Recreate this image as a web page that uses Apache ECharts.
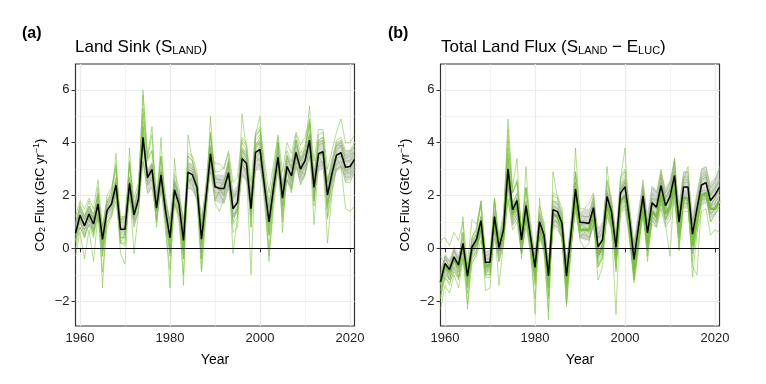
<!DOCTYPE html>
<html><head><meta charset="utf-8">
<script src="https://cdn.jsdelivr.net/npm/echarts@6/dist/echarts.min.js"></script>
<style>html,body{margin:0;padding:0;background:#fff}#c{width:766px;height:384px}</style>
</head><body><div id="c"></div>
<script>
const years=[1959,1960,1961,1962,1963,1964,1965,1966,1967,1968,1969,1970,1971,1972,1973,1974,1975,1976,1977,1978,1979,1980,1981,1982,1983,1984,1985,1986,1987,1988,1989,1990,1991,1992,1993,1994,1995,1996,1997,1998,1999,2000,2001,2002,2003,2004,2005,2006,2007,2008,2009,2010,2011,2012,2013,2014,2015,2016,2017,2018,2019,2020,2021];
const xTickLabels=[1960,1980,2000,2020];
const xGridLines=[1960,1970,1980,1990,2000,2010,2020];
const yTickLabels=[-2,0,2,4,6];
const yMinorLines=[-1,1,3,5];

// Panel (a) Land sink
const landMean=[0.57,1.25,0.86,1.30,0.92,1.68,0.34,1.43,1.68,2.40,0.72,0.72,2.46,1.27,1.86,4.20,2.68,2.99,1.52,2.78,1.43,0.40,2.22,1.67,0.30,2.89,2.78,2.30,0.35,1.90,3.58,2.33,2.27,2.27,2.86,1.50,1.74,3.40,3.21,1.50,3.63,3.75,2.35,1.00,2.28,3.45,1.90,3.10,2.74,3.63,3.00,3.32,4.10,2.31,3.58,3.66,2.02,2.84,3.53,3.62,3.07,3.10,3.37];
const landLow=[0.3,0.9,0.5,0.9,0.6,1.3,0.1,1.1,1.3,1.9,0.5,0.5,1.8,0.8,1.3,3.3,2.0,2.3,1.1,2.1,1.0,0.1,1.7,1.2,0.1,2.3,2.2,1.8,0.1,1.4,2.9,1.8,1.7,1.7,2.2,1.1,1.3,2.7,2.5,1.1,2.9,3.0,1.8,0.7,1.8,2.8,1.5,2.5,2.2,3.0,2.4,2.7,3.4,1.9,2.9,3.0,1.6,2.3,2.9,3.0,2.5,2.6,2.8];
const landHigh=[1.0,1.6,1.2,1.6,1.3,2.0,0.8,1.8,2.0,2.6,1.2,1.2,2.8,1.8,2.3,4.3,3.0,3.3,2.1,3.1,2.0,1.1,2.7,2.2,1.1,3.3,3.2,2.8,1.1,2.4,3.9,2.8,2.8,2.8,3.3,2.2,2.4,3.8,3.7,2.2,4.0,4.1,2.9,1.8,2.9,3.9,2.6,3.6,3.3,4.1,3.5,3.8,4.5,3.0,4.1,4.1,2.7,3.4,4.0,4.1,3.7,3.7,3.9];
const landModel1=[0.8,1.5,1.1,1.6,1.1,2.1,0.3,1.7,2.1,3.0,0.8,0.8,3.1,1.5,2.3,5.3,3.3,3.7,1.7,3.4,1.6,0.3,2.6,1.9,0.1,3.5,3.3,2.7,0.2,2.1,4.3,2.6,2.6,2.4,3.4,1.5,1.8,4.0,3.7,1.5,4.2,4.5,2.6,0.8,2.5,4.0,1.9,3.5,3.0,4.1,3.3,3.7,4.7,2.4,4.1,4.2,2.0,3.0,3.9,4.0,3.3,3.3,3.7];
const landModel2=[0.3,0.8,0.5,0.9,0.6,1.2,0.1,1.0,1.2,1.8,0.4,0.5,1.9,1.0,1.4,3.3,2.1,2.3,1.1,2.2,1.1,0.3,1.7,1.3,0.2,2.3,2.2,1.9,0.3,1.6,2.9,1.9,2.1,1.7,2.4,1.3,1.4,2.8,2.6,1.3,3.0,3.2,2.0,0.9,2.0,3.0,1.7,2.6,2.3,3.1,2.6,2.8,3.5,2.0,3.1,3.2,1.8,2.5,3.0,3.1,2.7,2.7,3.0];
const landModel3=[1.2,1.8,1.5,1.9,1.5,2.6,0.8,2.0,2.3,3.1,1.2,1.2,3.2,1.9,2.5,5.1,3.4,3.7,2.1,3.5,2.0,0.9,2.8,2.3,0.7,3.6,3.5,2.9,0.8,2.5,4.3,2.9,2.9,3.1,3.6,2.0,2.2,4.1,3.9,2.0,4.3,4.5,3.0,1.4,2.9,4.2,2.4,3.7,3.3,4.3,3.6,3.9,4.8,2.8,4.3,4.4,2.5,3.4,4.1,4.2,3.7,3.7,4.0];
const landModel4=[-0.3,0.6,-0.4,0.7,-0.5,1.3,-0.9,0.8,1.2,2.2,-0.2,-0.6,2.3,-0.2,1.4,4.6,2.5,2.9,0.8,2.6,0.6,-0.8,1.7,1.0,-1.0,2.7,2.5,1.8,-0.9,1.2,3.6,1.7,1.4,1.9,2.5,0.6,0.8,3.2,2.9,-1.0,3.4,3.7,1.7,-0.3,1.5,3.2,1.0,2.6,2.1,3.3,2.4,2.8,3.9,0.9,3.2,3.3,0.2,2.1,3.0,3.1,1.5,1.4,1.6];
const landModel5=[0.2,1.3,0.8,1.4,0.7,2.0,-1.5,1.5,1.9,3.6,0.2,0.1,3.8,1.1,2.1,6.0,3.4,4.3,1.4,4.2,1.1,-1.5,3.4,1.6,-1.4,4.3,3.3,2.5,-0.8,1.7,5.0,2.4,2.3,2.5,3.3,-0.2,1.2,5.1,3.7,0.8,4.3,5.0,2.3,-0.5,2.0,4.0,0.6,3.3,2.6,4.1,3.1,3.6,5.4,1.8,4.0,4.1,1.2,2.6,3.7,3.9,3.0,3.0,3.4];
const landModel6=[0.9,1.3,1.1,1.4,1.1,1.6,0.8,1.5,1.7,2.1,1.1,1.1,2.2,1.5,1.9,3.3,2.4,2.6,1.7,2.5,1.7,1.1,2.2,1.9,1.1,2.6,2.6,2.3,1.2,2.1,3.1,2.4,2.2,2.6,2.8,1.9,2.1,3.1,3.0,2.0,3.3,3.4,2.6,1.8,2.6,3.3,2.3,3.1,2.8,3.4,3.1,3.3,3.8,2.7,3.5,3.6,2.5,3.0,3.5,3.6,3.3,3.3,3.5];
const landModel7=[0.3,1.0,0.7,1.1,0.6,1.6,-0.1,1.3,1.6,2.5,0.4,0.4,2.6,1.1,1.8,4.6,2.8,3.1,1.4,2.9,1.2,0.0,2.2,1.6,-0.1,3.1,3.0,2.4,0.1,1.9,3.9,2.5,2.5,2.3,3.2,1.5,1.8,3.8,3.6,1.5,4.1,4.3,2.6,1.0,2.5,4.0,2.1,3.5,3.0,4.1,3.4,3.8,4.7,2.6,4.1,4.2,2.2,3.2,4.0,4.1,3.5,3.6,3.9];
const landModel8=[0.7,1.7,1.2,1.8,1.1,2.3,0.1,1.8,2.2,3.2,0.7,0.6,3.3,1.4,2.3,5.8,3.5,4.6,1.6,3.5,1.4,-0.1,2.5,1.8,-0.4,3.5,3.3,2.5,-0.4,1.9,4.4,2.3,2.3,2.0,3.1,0.9,1.2,3.7,3.4,0.8,3.9,4.2,2.1,0.0,1.9,3.6,1.2,3.0,2.3,3.6,2.7,3.1,4.3,1.6,3.5,3.6,1.1,2.2,3.2,3.3,2.5,2.5,2.9];
const landModel9=[0.5,1.1,0.4,1.2,0.5,1.6,-0.3,1.3,1.5,2.3,0.2,0.6,2.0,1.2,1.8,4.0,2.6,2.9,1.0,2.7,1.3,-0.2,2.1,1.2,-0.2,2.4,2.7,2.2,0.3,1.8,3.5,1.8,2.2,2.0,2.8,1.0,1.6,3.3,2.7,1.4,3.5,3.3,2.3,0.5,2.2,3.4,1.4,3.0,2.2,3.5,2.9,2.8,4.0,1.8,3.5,3.2,1.5,2.7,3.4,3.1,3.0,2.8,3.1];
const landModel10=[0.9,1.4,1.1,1.5,1.1,1.9,0.6,1.6,1.9,2.5,1.0,1.0,2.6,1.5,2.1,4.1,2.8,3.1,1.7,2.9,1.6,0.8,2.4,1.9,0.7,3.0,2.9,2.5,0.8,2.1,3.7,3.2,3.2,3.0,3.7,2.5,2.7,4.2,4.0,2.5,4.4,4.6,3.3,2.1,3.2,4.3,2.9,4.0,3.6,4.4,3.9,4.2,4.9,3.3,4.5,4.5,3.0,3.7,4.4,4.9,4.0,4.0,4.3];
const landModel11=[0.3,1.2,0.7,1.2,0.7,1.7,0.0,1.4,1.7,2.6,0.4,0.4,2.6,1.1,1.8,4.8,2.8,3.2,1.4,2.9,1.2,-0.1,2.2,1.5,-0.2,3.0,2.9,2.3,-0.2,1.7,3.8,2.3,2.2,2.2,2.9,1.2,1.5,3.5,3.3,1.2,3.8,4.0,2.2,0.5,2.1,3.5,1.6,3.1,2.6,3.7,2.9,3.3,4.3,2.0,3.6,3.7,1.6,2.7,3.5,3.6,2.9,3.0,3.3];
const landModel12=[1.0,1.6,1.2,1.6,1.3,2.0,0.8,1.8,2.0,2.7,1.1,1.2,2.7,1.6,2.2,4.3,2.9,3.2,1.9,3.0,1.8,0.9,2.5,2.0,0.8,3.2,3.1,2.6,0.9,2.3,3.8,2.7,2.6,2.6,3.2,1.9,2.2,3.7,3.5,2.0,3.9,4.0,2.7,1.5,2.7,3.7,2.3,3.4,3.1,3.9,3.3,3.6,4.3,2.7,3.9,4.0,2.5,3.2,3.9,3.9,3.4,3.5,3.7];
const landModel13=[0.0,0.8,0.4,0.9,0.4,1.3,-0.3,1.0,1.3,2.1,0.2,0.2,2.2,0.8,1.5,4.1,2.4,2.7,1.0,2.5,0.9,-0.3,1.8,1.2,-0.4,2.6,2.4,1.9,-0.4,1.4,3.3,2.1,2.1,2.1,2.8,1.2,1.4,3.3,3.1,1.2,3.6,3.7,2.1,0.6,2.0,3.4,1.6,2.9,2.5,3.5,2.8,3.2,4.1,2.0,3.5,3.6,1.7,2.6,3.4,3.5,2.8,2.9,3.2];

// Panel (b) Total land flux
const totMean=[-1.27,-0.57,-0.80,-0.32,-0.63,0.19,-1.05,0.06,0.34,1.05,-0.54,-0.52,1.20,0.03,0.70,3.01,1.46,1.81,0.32,1.62,0.44,-0.72,1.01,0.51,-1.04,1.46,1.39,0.95,-1.05,0.57,2.24,0.99,0.97,0.95,1.54,0.06,0.32,1.96,1.39,0.04,2.09,2.34,1.10,-0.42,0.82,1.99,0.59,1.73,1.56,2.37,1.62,1.96,2.76,0.99,2.32,2.32,0.54,1.50,2.40,2.49,1.81,2.03,2.32];
const totLow=[-1.6,-1.0,-1.2,-0.8,-1.0,-0.3,-1.4,-0.4,-0.2,0.5,-0.9,-0.9,0.5,-0.5,0.1,2.1,0.8,1.1,-0.2,0.9,-0.1,-1.1,0.4,0.0,-1.3,0.8,0.8,0.4,-1.3,0.1,1.5,0.4,0.3,0.3,0.8,-0.4,-0.2,1.2,0.7,-0.4,1.3,1.6,0.5,-0.8,0.3,1.3,0.0,1.0,0.8,1.5,0.9,1.2,1.9,0.4,1.5,1.5,0.0,0.8,1.6,1.7,1.1,1.3,1.6];
const totHigh=[-0.8,-0.2,-0.4,0.1,-0.2,0.5,-0.6,0.4,0.6,1.3,-0.1,-0.1,1.5,0.5,1.1,3.1,1.8,2.1,0.8,1.9,0.9,-0.1,1.4,1.0,-0.3,1.8,1.8,1.4,-0.3,1.1,2.5,1.4,1.5,1.5,2.0,0.8,1.0,2.4,1.9,0.8,2.5,2.8,1.7,0.4,1.5,2.5,1.4,2.4,2.2,2.9,2.3,2.6,3.3,1.8,2.9,2.9,1.4,2.2,3.0,3.1,2.5,2.7,3.0];
const totDgvmMean=[-1.3,-0.6,-0.9,-0.4,-0.7,0.1,-1.1,0.0,0.2,0.9,-0.7,-0.6,1.1,-0.1,0.6,2.9,1.3,1.7,0.2,1.5,0.3,-0.9,0.8,0.3,-1.2,1.3,1.2,0.7,-1.3,0.3,2.0,0.7,0.7,0.7,1.3,-0.2,0.0,1.7,1.1,-0.3,1.8,2.0,0.8,-0.8,0.5,1.7,0.2,1.4,1.2,2.0,1.3,1.6,2.4,0.6,1.9,1.9,0.1,1.1,2.0,2.1,1.5,1.5,1.8];
const totModel1=[-1.3,-0.4,-0.7,-0.1,-0.5,0.6,-1.1,0.4,0.7,1.6,-0.4,-0.4,1.8,0.3,1.1,4.1,2.1,2.5,0.6,2.3,0.7,-0.8,1.4,0.8,-1.3,2.0,1.9,1.3,-1.3,0.8,2.9,1.3,1.2,1.2,2.0,0.0,0.4,2.5,1.7,0.0,2.6,2.9,1.3,-0.7,0.9,2.4,0.6,2.1,1.8,2.9,1.9,2.3,3.3,1.0,2.7,2.7,0.4,1.6,2.8,2.9,2.0,2.3,2.6];
const totModel2=[-1.6,-1.1,-1.3,-0.9,-1.1,-0.4,-1.4,-0.5,-0.3,0.3,-1.0,-1.0,0.4,-0.5,0.1,1.9,0.7,1.0,-0.2,0.8,-0.1,-1.0,0.4,0.0,-1.3,0.8,0.7,0.4,-1.2,0.1,1.4,0.4,0.6,0.4,0.9,-0.3,-0.1,1.3,0.8,-0.3,1.4,1.6,0.6,-0.6,0.4,1.3,0.2,1.2,1.0,1.7,1.1,1.4,2.0,0.6,1.7,1.7,0.3,1.1,1.8,1.9,1.3,1.5,1.8];
const totModel3=[0.3,0.4,0.1,0.6,0.3,1.0,-0.6,1.1,0.9,1.7,-0.1,-0.1,1.8,0.5,1.3,3.8,2.1,2.5,0.8,2.3,1.0,-0.3,1.6,1.0,-0.7,2.1,2.0,1.5,-0.7,1.1,2.9,1.5,1.5,1.7,2.1,0.5,0.8,2.6,1.9,0.4,2.7,3.0,1.6,-0.1,1.3,2.6,1.0,2.3,2.1,3.0,2.1,2.5,3.4,1.4,2.9,2.9,0.9,2.0,3.0,3.1,2.3,2.5,3.1];
const totModel4=[-2.3,-1.4,-1.7,-1.0,-1.5,-0.4,-2.1,-0.6,-0.2,0.8,-1.6,-1.5,0.9,-1.4,0.2,3.4,1.2,1.7,-0.4,1.4,-0.3,-1.9,0.5,-0.2,-2.4,1.1,1.0,0.3,-2.2,-0.2,2.1,0.3,0.0,0.2,1.0,-1.2,-0.7,1.6,0.8,-2.5,1.7,2.0,0.3,-1.3,-0.1,1.5,-0.5,1.1,0.8,2.0,0.9,-0.3,2.5,-0.1,1.8,1.8,-0.7,-1.0,1.8,2.0,1.0,1.3,1.6];
const totModel5=[-1.9,-0.7,-1.2,-0.4,-0.9,1.2,-2.3,0.1,0.6,1.8,-1.0,-1.0,1.9,-0.1,1.0,4.9,2.3,3.4,0.3,3.1,0.4,-2.5,1.9,0.4,-2.7,2.9,1.9,1.1,-2.0,0.4,3.8,1.0,1.0,0.9,1.9,-0.7,-0.3,3.1,1.5,-0.8,2.6,3.8,0.9,-1.2,0.3,2.3,-0.1,1.8,1.5,2.8,1.5,2.1,3.4,0.4,2.6,3.1,-0.5,1.1,2.6,2.7,1.6,1.9,2.3];
const totModel6=[-0.3,-0.6,-0.7,-0.4,-0.6,-0.1,-0.8,-0.1,0.1,0.5,-0.4,-0.4,0.7,0.0,0.4,1.8,0.9,1.1,0.2,1.0,0.3,-0.3,0.7,0.4,-0.5,1.0,1.0,0.8,-0.4,0.6,1.6,0.9,1.1,0.9,1.2,0.4,0.5,1.5,1.2,0.4,1.7,1.8,1.1,0.2,1.0,1.7,0.9,1.6,1.5,2.0,1.6,1.8,2.3,1.2,2.0,2.1,1.0,1.6,2.2,2.2,1.8,2.0,2.2];
const totModel7=[-1.8,-1.0,-1.2,-0.7,-1.1,0.0,-1.5,-0.2,0.1,1.0,-0.9,-0.9,1.2,-0.2,0.6,3.4,1.5,1.9,0.1,1.7,0.3,-1.1,1.0,0.4,-1.5,1.5,1.4,0.9,-1.5,0.4,2.5,1.0,1.0,0.9,1.6,-0.2,0.2,2.2,1.5,-0.1,2.3,2.6,1.1,-0.7,0.8,2.2,0.5,1.9,1.7,2.7,1.8,2.2,3.1,1.0,2.6,2.6,0.5,1.6,2.7,2.8,2.0,2.2,2.6];
const totModel8=[-1.4,-0.3,-0.7,0.0,-0.5,0.6,-1.3,0.4,0.8,1.8,-0.7,-0.7,1.9,0.1,1.1,4.5,2.1,2.6,0.4,2.3,0.5,-1.3,1.3,0.5,-1.9,1.8,1.7,1.0,-2.1,0.3,2.8,0.9,0.8,0.7,1.6,-0.7,-0.4,2.1,1.2,-0.9,2.2,2.5,0.6,-1.1,0.1,1.8,-0.3,1.4,1.1,2.2,1.1,1.5,2.7,0.0,2.0,1.9,-1.1,0.6,2.0,2.0,1.0,1.3,1.5];
const totModel9=[-1.4,-0.7,-1.2,-0.4,-1.1,0.1,-1.2,0.0,0.2,0.9,-1.0,-0.6,1.1,-0.1,0.6,2.8,1.3,1.7,-0.2,1.5,0.3,-1.2,0.9,0.0,-1.5,1.3,1.3,0.8,-1.2,0.4,2.1,0.6,0.8,0.6,1.4,-0.4,0.2,1.8,0.9,-0.4,2.0,2.2,1.0,-0.9,0.4,1.9,0.1,1.6,1.1,2.2,1.5,1.5,2.6,0.5,2.2,2.0,0.1,1.3,2.2,2.0,1.6,1.7,2.0];
const totModel10=[-1.3,-0.7,-0.9,-0.4,-0.7,0.0,-1.2,-0.2,0.1,0.7,-0.8,-0.7,0.8,-0.3,0.3,2.4,1.0,1.3,-0.1,1.1,0.0,-1.0,0.5,0.1,-1.4,0.9,0.8,0.4,-1.4,0.1,1.6,0.4,0.4,0.3,0.9,-0.5,-0.2,1.2,0.7,-0.5,1.3,1.5,0.4,-1.0,0.1,1.2,-0.1,0.9,0.8,1.5,0.8,1.1,1.8,0.2,1.4,1.4,-0.2,0.6,1.4,1.5,0.5,0.7,0.6];
const totModel11=[-1.6,-0.7,-1.0,-0.4,-0.8,0.2,-1.4,0.0,0.4,1.2,-0.8,-0.8,1.4,-0.1,0.7,3.6,1.7,2.1,0.2,1.8,0.4,-1.1,1.0,0.4,-1.5,1.6,1.5,0.9,-1.6,0.4,2.5,0.9,0.9,0.9,1.6,-0.3,0.0,2.1,1.4,-0.4,2.2,2.5,1.0,-1.0,0.6,2.0,0.3,1.7,1.5,2.5,1.5,1.9,2.9,0.7,2.3,2.3,0.1,1.3,2.4,2.5,1.6,1.9,2.3];
const totModel12=[-1.0,-0.3,-0.5,-0.1,-0.4,0.4,-0.7,0.3,0.5,1.2,-0.3,-0.2,1.3,0.3,0.9,3.0,1.6,1.9,0.6,1.7,0.7,-0.4,1.2,0.7,-0.6,1.6,1.5,1.2,-0.6,0.8,2.3,1.2,1.2,1.2,1.7,0.4,0.6,2.1,1.6,0.4,2.2,2.5,1.3,0.0,1.1,2.2,0.9,1.9,1.8,2.5,1.9,2.2,2.9,1.3,2.5,2.5,0.9,1.8,2.6,2.7,2.1,2.3,2.5];
const totModel13=[-1.9,-1.1,-1.4,-0.8,-1.2,-0.3,-1.7,-0.4,-0.1,0.7,-1.1,-1.1,0.9,-0.5,0.3,2.9,1.1,1.5,-0.2,1.3,-0.1,-1.4,0.6,0.0,-1.8,1.1,1.0,0.5,-1.8,0.0,1.9,0.5,0.5,0.4,1.1,-0.6,-0.3,1.6,0.9,-0.7,1.7,2.0,0.6,-1.2,0.2,1.6,-0.1,1.2,1.0,2.0,1.1,1.5,2.4,0.4,1.9,1.9,-0.2,0.9,1.9,2.0,1.3,1.5,1.8];

const landModels=[landModel1,landModel2,landModel3,landModel4,landModel5,landModel6,landModel7,landModel8,landModel9,landModel10,landModel11,landModel12,landModel13];
const totModels=[totModel1,totModel2,totModel3,totModel4,totModel5,totModel6,totModel7,totModel8,totModel9,totModel10,totModel11,totModel12,totModel13];

const FONT='"Liberation Sans", Arial, Helvetica, sans-serif';
const pair=(arr)=>years.map((y,i)=>[y,arr[i]]);

function gridSeries(ai){
  return {type:'line',xAxisIndex:ai,yAxisIndex:ai,data:[],silent:true,z:0,
    markLine:{silent:true,symbol:['none','none'],label:{show:false},animation:false,z:0,
      data:[].concat(
        yMinorLines.map(v=>({yAxis:v,lineStyle:{color:'#ebebeb',width:0.6,type:'solid'}})),
        yTickLabels.map(v=>({yAxis:v,lineStyle:{color:'#ebebeb',width:1.2,type:'solid'}})),
        xGridLines.map(v=>({xAxis:v,lineStyle:{color:'#ebebeb',width:(v%20===0?1.2:0.6),type:'solid'}}))
      )}};
}
function bandSeries(ai,low,high){
  return {type:'custom',xAxisIndex:ai,yAxisIndex:ai,z:3,silent:true,clip:true,
    data:years.map((y,i)=>[y,low[i],high[i]]),
    encode:{x:0,y:[1,2]},
    renderItem:function(params,api){
      if(params.dataIndex!==0) return null;
      const pts=[];
      for(let i=0;i<years.length;i++) pts.push(api.coord([years[i],high[i]]));
      for(let i=years.length-1;i>=0;i--) pts.push(api.coord([years[i],low[i]]));
      return {type:'polygon',shape:{points:pts},style:{fill:'rgba(165,165,165,0.42)'}};
    }};
}
function modelSeries(ai,arr){
  return {type:'line',xAxisIndex:ai,yAxisIndex:ai,data:pair(arr),showSymbol:false,symbol:'none',silent:true,z:2,
    lineStyle:{color:'rgba(120,195,55,0.55)',width:1},clip:true};
}
function meanSeries(ai,arr){
  return {type:'line',xAxisIndex:ai,yAxisIndex:ai,data:pair(arr),showSymbol:false,symbol:'none',silent:true,z:6,
    lineStyle:{color:'#000',width:1.5},clip:true,
    markLine:{silent:true,symbol:['none','none'],label:{show:false},z:6,
      data:[{yAxis:0,lineStyle:{color:'#000',width:1.1,type:'solid'}}]}};
}
function xAxis(ai){
  return {type:'value',gridIndex:ai,min:1959,max:2021,
    name:'Year',nameLocation:'middle',nameGap:27,
    nameTextStyle:{fontFamily:FONT,fontSize:14,color:'#000'},
    axisLine:{show:false},
    axisTick:{show:true,customValues:xTickLabels,length:4,lineStyle:{color:'#333',width:1}},
    axisLabel:{customValues:xTickLabels,fontFamily:FONT,fontSize:13,color:'#222',margin:6,formatter:v=>String(v)},
    splitLine:{show:false}};
}
function yAxis(ai){
  return {type:'value',gridIndex:ai,min:-2.94,max:6.98,
    name:'CO{sub|2} Flux (GtC yr{sup|−1})',nameLocation:'middle',nameRotate:90,nameGap:28,
    nameTextStyle:{fontFamily:FONT,fontSize:13,color:'#000',
      rich:{sub:{fontFamily:FONT,fontSize:9,verticalAlign:'bottom',padding:[6,0,0,0],color:'#000'},
            sup:{fontFamily:FONT,fontSize:9,verticalAlign:'top',padding:[0,0,6,0],color:'#000'}}},
    axisLine:{show:false},
    axisTick:{show:true,customValues:yTickLabels,length:4,lineStyle:{color:'#333',width:1}},
    axisLabel:{customValues:yTickLabels,fontFamily:FONT,fontSize:13,color:'#222',margin:6,
      formatter:v=>(v<0?'\u2212'+Math.abs(v):String(v))},
    splitLine:{show:false}};
}

const series=[];
series.push(gridSeries(0),gridSeries(1));
landModels.forEach(m=>series.push(modelSeries(0,m)));
totModels.forEach(m=>series.push(modelSeries(1,m)));
series.push(bandSeries(0,landLow,landHigh),bandSeries(1,totLow,totHigh));
series.push({type:'line',xAxisIndex:1,yAxisIndex:1,data:pair(totDgvmMean),showSymbol:false,symbol:'none',silent:true,z:4,
  lineStyle:{color:'#78c23c',width:2.6},clip:true});
series.push(meanSeries(0,landMean),meanSeries(1,totMean));

const chart=echarts.init(document.getElementById('c'),null,{renderer:'canvas'});
chart.setOption({
  animation:false,
  backgroundColor:'#fff',
  grid:[
    {left:75.5,right:411.5,top:64,height:262,show:true,borderColor:'#333',borderWidth:1.2,backgroundColor:'transparent'},
    {left:440.5,right:46.5,top:64,height:262,show:true,borderColor:'#333',borderWidth:1.2,backgroundColor:'transparent'}
  ],
  xAxis:[xAxis(0),xAxis(1)],
  yAxis:[yAxis(0),yAxis(1)],
  graphic:[
    {type:'text',left:22,top:26,style:{text:'(a)',font:'bold 16px '+FONT,fill:'#000'}},
    {type:'text',left:388,top:26,style:{text:'(b)',font:'bold 16px '+FONT,fill:'#000'}},
    {type:'text',left:75,top:39,style:{text:'Land Sink (S{sub|LAND})',font:'17px '+FONT,fill:'#000',
      rich:{sub:{font:'11px '+FONT,fill:'#000',verticalAlign:'bottom',padding:[5,0,0,0]}}}},
    {type:'text',left:441,top:39,style:{text:'Total Land Flux (S{sub|LAND} \u2212 E{sub|LUC})',font:'17px '+FONT,fill:'#000',
      rich:{sub:{font:'11px '+FONT,fill:'#000',verticalAlign:'bottom',padding:[5,0,0,0]}}}}
  ],
  series:series
});
</script></body></html>
